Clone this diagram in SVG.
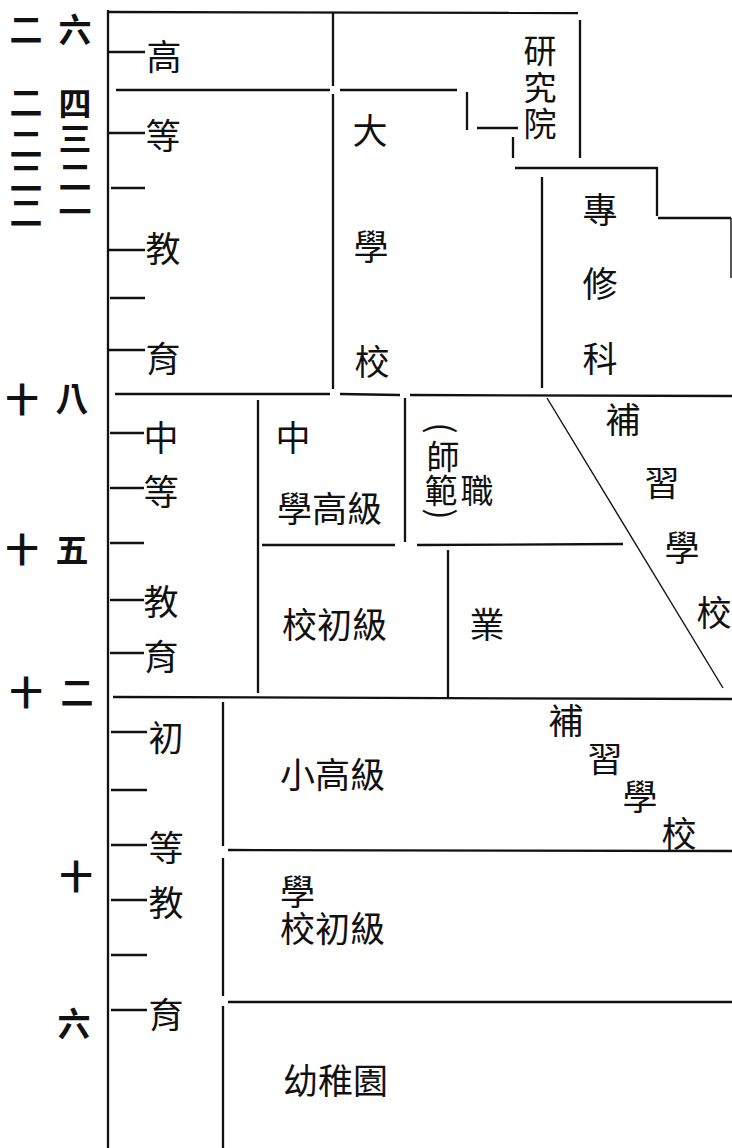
<svg xmlns="http://www.w3.org/2000/svg" width="732" height="1148" viewBox="0 0 732 1148">
<style>
  .ln { stroke: #111; stroke-width: 2.3; fill: none; stroke-linecap: butt; }
  .thin { stroke: #111; stroke-width: 1.4; fill: none; }
  .t { font-family: "Noto Sans CJK TC", "Noto Sans CJK SC", sans-serif; font-size: 35px; fill: #111; text-anchor: middle; dominant-baseline: central; }
  .m { font-family: "Noto Sans CJK TC", "Noto Sans CJK SC", sans-serif; font-size: 33px; fill: #111; text-anchor: middle; dominant-baseline: central; }
  .p { font-family: "Noto Sans CJK TC", "Noto Sans CJK SC", sans-serif; font-size: 34px; fill: #111; text-anchor: middle; dominant-baseline: central; }
  .n { font-family: "Noto Sans CJK TC", "Noto Sans CJK SC", sans-serif; font-size: 33px; fill: #111; text-anchor: middle; dominant-baseline: central; font-weight: bold; }
  .s { font-family: "Noto Sans CJK TC", "Noto Sans CJK SC", sans-serif; font-size: 35px; fill: #111; dominant-baseline: central; }
</style>
<rect width="732" height="1148" fill="#ffffff"/>

<g id="connectors">
  <!-- main age axis -->
  <line class="ln" x1="108" y1="10" x2="108" y2="1148"/>
  <!-- tick marks -->
  <line class="ln" x1="109" y1="52" x2="145" y2="52"/>
  <line class="ln" x1="109" y1="133" x2="145" y2="133"/>
  <line class="ln" x1="111" y1="188" x2="145" y2="188"/>
  <line class="ln" x1="109" y1="250" x2="145" y2="250"/>
  <line class="ln" x1="110" y1="298" x2="145" y2="298"/>
  <line class="ln" x1="109" y1="350" x2="145" y2="350"/>

  <line class="ln" x1="110" y1="433" x2="144" y2="433"/>
  <line class="ln" x1="110" y1="488" x2="144" y2="488"/>
  <line class="ln" x1="110" y1="543" x2="144" y2="543"/>
  <line class="ln" x1="110" y1="600" x2="144" y2="600"/>
  <line class="ln" x1="110" y1="653" x2="144" y2="653"/>

  <line class="ln" x1="111" y1="732" x2="147" y2="732"/>
  <line class="ln" x1="111" y1="790" x2="147" y2="790"/>
  <line class="ln" x1="111" y1="845" x2="147" y2="845"/>
  <line class="ln" x1="111" y1="900" x2="147" y2="900"/>
  <line class="ln" x1="111" y1="955" x2="147" y2="955"/>
  <line class="ln" x1="111" y1="1010" x2="147" y2="1010"/>

  <!-- higher education block -->
  <line class="ln" x1="108" y1="12" x2="578" y2="13"/>
  <line class="ln" x1="333" y1="13" x2="333" y2="86"/>
  <line class="ln" x1="333" y1="94" x2="333" y2="389"/>
  <line class="ln" x1="116" y1="90" x2="330" y2="90"/>
  <line class="ln" x1="340" y1="90" x2="457" y2="90"/>
  <line class="ln" x1="467" y1="92" x2="467" y2="130"/>
  <line class="ln" x1="477" y1="128" x2="518" y2="128"/>
  <line class="ln" x1="513" y1="137" x2="513" y2="158"/>
  <line class="ln" x1="580" y1="20" x2="580" y2="158"/>
  <line class="ln" x1="515" y1="168" x2="657" y2="168"/>
  <line class="ln" x1="657" y1="167" x2="657" y2="216"/>
  <line class="ln" x1="658" y1="218" x2="731" y2="218"/>
  <line class="thin" x1="731" y1="218" x2="731" y2="278"/>
  <line class="ln" x1="542" y1="177" x2="542" y2="388"/>

  <!-- line at age 18 -->
  <line class="ln" x1="115" y1="394" x2="330" y2="394"/>
  <line class="ln" x1="340" y1="394" x2="400" y2="395"/>
  <line class="ln" x1="410" y1="395" x2="732" y2="396"/>

  <!-- secondary block -->
  <line class="ln" x1="258" y1="400" x2="258" y2="693"/>
  <line class="ln" x1="405" y1="398" x2="405" y2="542"/>
  <line class="ln" x1="262" y1="545" x2="395" y2="545"/>
  <line class="ln" x1="417" y1="545" x2="623" y2="544"/>
  <line class="ln" x1="448" y1="550" x2="448" y2="697"/>
  <line class="thin" x1="547" y1="398" x2="723" y2="688"/>

  <!-- line at age 12 -->
  <line class="ln" x1="113" y1="697" x2="732" y2="699"/>

  <!-- primary block -->
  <line class="ln" x1="223" y1="702" x2="223" y2="846"/>
  <line class="ln" x1="223" y1="858" x2="223" y2="996"/>
  <line class="ln" x1="223" y1="1006" x2="223" y2="1148"/>
  <line class="ln" x1="228" y1="850" x2="732" y2="851"/>
  <line class="ln" x1="228" y1="1002" x2="732" y2="1002"/>
</g>

<g id="age-labels">
  <text class="n" x="26" y="28">二</text>
  <text class="n" x="75" y="28">六</text>
  <text class="n"><tspan x="26" y="101">二</tspan><tspan x="26" y="142">二</tspan><tspan x="26" y="176">二</tspan><tspan x="26" y="211">二</tspan></text>
  <text class="n"><tspan x="75" y="102">四</tspan><tspan x="75" y="137">三</tspan><tspan x="75" y="175">二</tspan><tspan x="75" y="210">一</tspan></text>
  <text class="n" x="22" y="398">十</text>
  <text class="n" x="72" y="397">八</text>
  <text class="n" x="22" y="548">十</text>
  <text class="n" x="72" y="548">五</text>
  <text class="n" x="26" y="691">十</text>
  <text class="n" x="77" y="691">二</text>
  <text class="n" x="76" y="875">十</text>
  <text class="n" x="74" y="1022">六</text>
</g>

<g id="level-higher">
  <text class="t"><tspan x="164" y="54">高</tspan><tspan x="163" y="133">等</tspan><tspan x="163" y="246">教</tspan><tspan x="163" y="356">育</tspan></text>
</g>
<g id="level-secondary">
  <text class="t"><tspan x="161" y="435">中</tspan><tspan x="161" y="489">等</tspan><tspan x="161" y="599">教</tspan><tspan x="161" y="654">育</tspan></text>
</g>
<g id="level-primary">
  <text class="t"><tspan x="166" y="735">初</tspan><tspan x="166" y="845">等</tspan><tspan x="166" y="900">教</tspan><tspan x="166" y="1012">育</tspan></text>
</g>

<g id="university">
  <text class="t"><tspan x="370" y="128">大</tspan><tspan x="371" y="244">學</tspan><tspan x="372" y="359">校</tspan></text>
</g>
<g id="graduate-school">
  <text class="m"><tspan x="540" y="49">研</tspan><tspan x="540" y="86">究</tspan><tspan x="540" y="122">院</tspan></text>
</g>
<g id="specialized-course">
  <text class="t"><tspan x="600" y="207">專</tspan><tspan x="600" y="281">修</tspan><tspan x="600" y="356">科</tspan></text>
</g>

<g id="middle-school">
  <text class="t"><tspan x="293" y="435">中</tspan></text>
  <text class="s" x="277" y="506">學高級</text>
  <text class="s" x="282" y="622">校初級</text>
</g>
<g id="normal-vocational">
  <text class="p" x="443" y="428" transform="rotate(90 443 428)">(</text>
  <text class="m"><tspan x="443" y="455">師</tspan><tspan x="441" y="489">範</tspan><tspan x="477" y="489">職</tspan></text>
  <text class="p" x="443" y="514" transform="rotate(90 443 514)">)</text>
  <text class="t" x="487" y="622">業</text>
</g>
<g id="continuation-school-upper">
  <text class="t"><tspan x="623" y="417">補</tspan><tspan x="662" y="480">習</tspan><tspan x="682" y="545">學</tspan><tspan x="714" y="610">校</tspan></text>
</g>

<g id="primary-school">
  <text class="s" x="280" y="772">小高級</text>
  <text class="s"><tspan x="280" y="889">學</tspan><tspan x="280" y="926">校初級</tspan></text>
</g>
<g id="continuation-school-lower">
  <text class="t"><tspan x="566" y="718">補</tspan><tspan x="605" y="756">習</tspan><tspan x="640" y="794">學</tspan><tspan x="679" y="831">校</tspan></text>
</g>
<g id="kindergarten">
  <text class="s" x="283" y="1078">幼稚園</text>
</g>
</svg>
